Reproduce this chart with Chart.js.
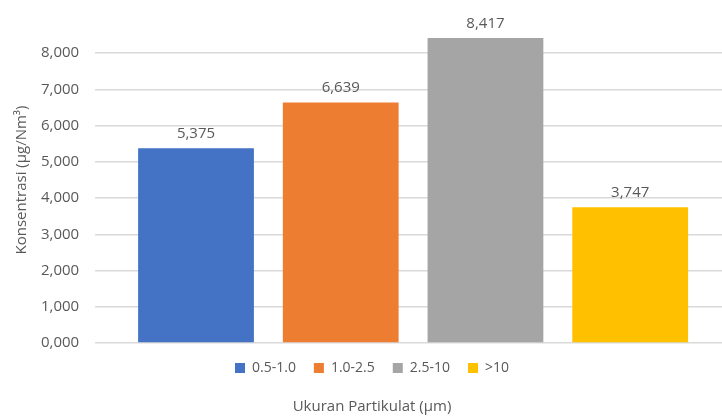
<!DOCTYPE html>
<html lang="id">
<head>
    <meta charset="UTF-8">
    <title>Konsentrasi Partikulat</title>
    <script src="https://cdn.jsdelivr.net/npm/chart.js"></script>
    <style>
        body {
            margin: 0;
            background: #fff;
            overflow: hidden;
        }
        .chart-box {
            position: absolute;
            left: 0;
            top: 0;
            width: 754px;
            height: 417px;
        }
    </style>
</head>
<body>
    <div class="chart-box">
        <canvas id="ukuranChart"></canvas>
    </div>

    <script>
        const sizeClasses = ['0.5-1.0', '1.0-2.5', '2.5-10', '>10'];
        const concentrations = [5.375, 6.639, 8.417, 3.747];
        const barColors = ['#4472C4', '#ED7D31', '#A5A5A5', '#FFC000'];
        const yTicks = [0, 1, 2, 3, 4, 5, 6, 7, 8];

        const textColor = '#595959';
        const fontFamily = '"Open Sans", sans-serif';

        function fmt(v) {
            return v.toFixed(3).replace('.', ',');
        }

        // value labels above each bar
        const valueLabels = {
            id: 'valueLabels',
            afterDatasetsDraw(chart) {
                const ctx = chart.ctx;
                ctx.save();
                ctx.font = '15px ' + fontFamily;
                ctx.fillStyle = textColor;
                ctx.textAlign = 'center';
                ctx.textBaseline = 'bottom';
                chart.data.datasets.forEach((ds, i) => {
                    chart.getDatasetMeta(i).data.forEach((bar, j) => {
                        ctx.fillText(fmt(ds.data[j]), bar.x, bar.y - 7);
                    });
                });
                ctx.restore();
            }
        };

        const datasets = sizeClasses.map((name, i) => ({
            label: name,
            data: [concentrations[i]],
            backgroundColor: barColors[i],
            categoryPercentage: 0.9105,
            barPercentage: 0.8
        }));

        new Chart(document.getElementById('ukuranChart'), {
            type: 'bar',
            data: {
                labels: [''],
                datasets: datasets
            },
            options: {
                responsive: true,
                maintainAspectRatio: false,
                animation: false,
                layout: {
                    padding: { top: 17, right: 23, left: 13, bottom: 0 }
                },
                scales: {
                    x: {
                        display: false
                    },
                    y: {
                        min: 0,
                        max: 9,
                        afterBuildTicks: axis => {
                            axis.ticks = yTicks.concat([9]).map(v => ({ value: v }));
                        },
                        // the top (9) step is only room for the tallest bar
                        afterFit: axis => {
                            axis.paddingTop = 0;
                        },
                        ticks: {
                            color: textColor,
                            font: { family: fontFamily, size: 15 },
                            padding: 16,
                            callback: v => v === 9 ? '' : fmt(v)
                        },
                        grid: {
                            color: c => c.tick && c.tick.value === 9 ? 'rgba(0,0,0,0)' : '#d9d9d9',
                            lineWidth: 1.5,
                            drawTicks: false
                        },
                        border: { display: false },
                        title: {
                            display: true,
                            text: 'Konsentrasi (µg/Nm³)',
                            color: textColor,
                            font: { family: fontFamily, size: 15 },
                            padding: { top: 0, bottom: -6 }
                        }
                    }
                },
                plugins: {
                    tooltip: { enabled: false },
                    legend: {
                        position: 'bottom',
                        labels: {
                            boxWidth: 10,
                            boxHeight: 10,
                            padding: 18,
                            color: textColor,
                            font: { family: fontFamily, size: 14 }
                        }
                    },
                    title: {
                        display: true,
                        position: 'bottom',
                        text: 'Ukuran Partikulat (µm)',
                        color: textColor,
                        font: { family: fontFamily, size: 15, weight: 'normal' },
                        padding: { top: 13, bottom: 1 }
                    }
                }
            },
            plugins: [valueLabels]
        });
    </script>
</body>
</html>
